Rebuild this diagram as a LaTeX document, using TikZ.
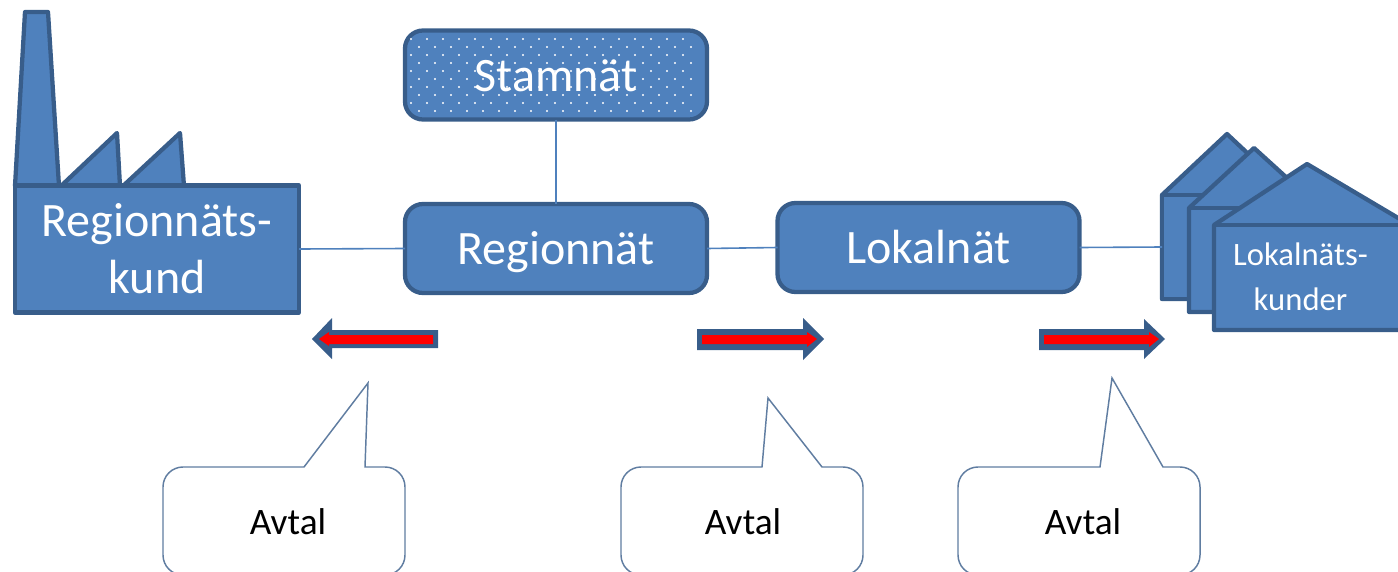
\documentclass[tikz,border=0pt]{standalone}
\usepackage{fontspec}
\setmainfont{Carlito}
\definecolor{bluefill}{HTML}{4F81BD}
\definecolor{bluedark}{HTML}{385D8A}
\tikzset{
  shapeline/.style={draw=bluedark,line width=3.2pt,fill=bluefill,line join=round},
  netbox/.style={shapeline,rounded corners=13.5pt,minimum width=226.5pt,minimum height=66.75pt,inner sep=0pt,outer sep=0pt,text=white,text height=24pt,text depth=0pt,font=\fontsize{36}{43}\selectfont},
  link/.style={draw=bluefill,line width=1.2pt},
  callout/.style={draw=bluedark!80,line width=1.1pt,fill=white,line join=miter},
  arrowouter/.style={fill=bluedark,draw=none},
  arrowinner/.style={fill=red,draw=none},
  saylabel/.style={inner sep=0pt,text=black,font=\fontsize{28}{32}\selectfont},
}
\begin{document}
\begin{tikzpicture}[x=0.75pt,y=-0.75pt]
\useasboundingbox (0,0) rectangle (1398,571);
% factory
\draw[shapeline] (15,186) -- (25,12) -- (48,12) -- (59,186) -- cycle;
\draw[shapeline] (61,186) -- (117,133) -- (120,186) -- cycle;
\draw[shapeline] (123,186) -- (180,133) -- (184,186) -- cycle;
\node[shapeline,minimum width=213pt,minimum height=95.25pt,inner sep=0pt,outer sep=0pt,text=white,align=center,font=\fontsize{36}{42.75}\selectfont] (factory) at (157,249) {Regionnäts-\\kund};
% network boxes
\node[netbox] (region) at (556,248.5) {Regionnät};
\node[netbox] (lokal) at (928.5,247.5) {Lokalnät};
\node[netbox] (stam) at (556,75) {};
\foreach \r in {0,...,9}{
  \pgfmathsetmacro{\yy}{39+8*\r}
  \pgfmathsetmacro{\xs}{isodd(\r)?419:411}
  \foreach \k in {0,...,17}{
    \fill[white] ({\xs+16*\k},\yy) circle[radius=1.1];
  }
}
\node[inner sep=0pt,text=white,text height=24pt,text depth=0pt,font=\fontsize{36}{43}\selectfont] (stamlabel) at (556,75) {Stamnät};
% houses
\draw[shapeline] (1162,195) -- (1227,134) -- (1292,195) -- (1292,299) -- (1162,299) -- cycle;
\node[shapeline,minimum width=60pt,minimum height=78pt,inner sep=0pt,outer sep=0pt] (houseA) at (1202,247) {};
\draw[shapeline] (1189,208) -- (1254,148) -- (1320,208) -- (1320,312) -- (1189,312) -- cycle;
\draw[shapeline] (1189,208) -- (1320,208);
\draw[shapeline] (1214,225) -- (1307,164) -- (1410,225) -- (1410,330) -- (1214,330) -- cycle;
\draw[shapeline] (1214,225) -- (1410,225);
\node[inner sep=0pt,text=white,align=center,font=\fontsize{24.5}{33.75}\selectfont] (customers) at (1300.5,277) {Lokalnäts-\\kunder};
% connectors
\draw[link] (factory.east) -- (region.west);
\draw[link] (region.east) -- (lokal.west);
\draw[link] (stam.south) -- (region.north);
\draw[link] (lokal.east) -- (houseA.west);
% arrows
\fill[arrowouter] (438,330) -- (332,330) -- (332,318) -- (312,339) -- (332,359) -- (332,348) -- (438,348) -- cycle;
\fill[arrowinner] (433,335) -- (329,335) -- (329,332) -- (319,339) -- (329,346) -- (329,344) -- (433,344) -- cycle;
\fill[arrowouter] (697,329) -- (803,329) -- (803,318) -- (824,339) -- (803,360) -- (803,350) -- (697,350) -- cycle;
\fill[arrowinner] (702,335) -- (807,335) -- (807,332) -- (817,339) -- (807,347) -- (807,344) -- (702,344) -- cycle;
\fill[arrowouter] (1039,329) -- (1144,329) -- (1144,319) -- (1165,339) -- (1144,359) -- (1144,350) -- (1039,350) -- cycle;
\fill[arrowinner] (1044,335) -- (1149,335) -- (1149,332) -- (1159,339) -- (1149,347) -- (1149,344) -- (1044,344) -- cycle;
% callouts
\draw[callout] (304,467) -- (368,383) -- (365,467) -- (385,467) to[out=0,in=90] (405,487) -- (405,555) to[out=-90,in=0] (385,575) -- (183,575) to[out=180,in=-90] (163,555) -- (163,487) to[out=90,in=180] (183,467) -- cycle;
\node[saylabel] (say1) at (288,522) {Avtal};
\draw[callout] (762,467) -- (768,398) -- (822,467) -- (843,467) to[out=0,in=90] (863,487) -- (863,555) to[out=-90,in=0] (843,575) -- (641,575) to[out=180,in=-90] (621,555) -- (621,487) to[out=90,in=180] (641,467) -- cycle;
\node[saylabel] (say2) at (743,522) {Avtal};
\draw[callout] (1100,467) -- (1112,378) -- (1163,467) -- (1180,467) to[out=0,in=90] (1200,487) -- (1200,555) to[out=-90,in=0] (1180,575) -- (978,575) to[out=180,in=-90] (958,555) -- (958,487) to[out=90,in=180] (978,467) -- cycle;
\node[saylabel] (say3) at (1083,522) {Avtal};
\end{tikzpicture}
\end{document}
